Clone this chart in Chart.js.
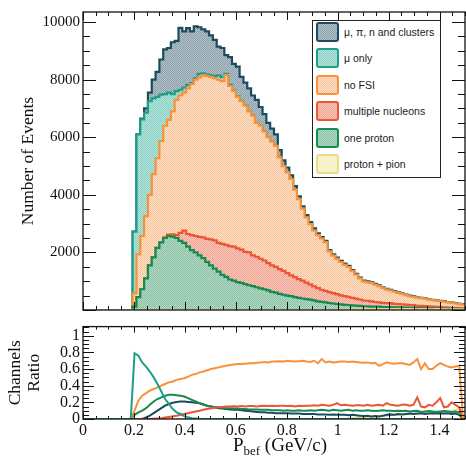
<!DOCTYPE html>
<html><head><meta charset="utf-8">
<script src="https://cdn.jsdelivr.net/npm/chart.js@4.4.0/dist/chart.umd.min.js"></script>
<style>
html,body{margin:0;padding:0;background:#fff;}
#wrap{position:relative;width:466px;height:458px;overflow:hidden;background:#fff;}
canvas{position:absolute;left:0;}
#c1{top:0;}
#c2{top:314px;}
#legend{position:absolute;left:312px;top:20px;width:127px;height:156px;border:1px solid #222;background:#fff;font:10.5px 'Liberation Sans',Arial,sans-serif;color:#222;}
.item{position:absolute;left:3px;height:20px;width:124px;}
.sw{position:absolute;left:0;top:0;width:19px;height:16px;border:2px solid;border-radius:3px;box-sizing:content-box;}
.lbl{position:absolute;left:28px;top:0;line-height:20px;white-space:nowrap;}
</style></head>
<body>
<div id="wrap">
<canvas id="c1" width="466" height="322"></canvas>
<canvas id="c2" width="466" height="144"></canvas>
<div id="legend"></div>
</div>
<script>
// ---------------- data ----------------
const binWidth = 0.015;          // GeV/c
const nBins = 100;               // 0 .. 1.5 GeV/c
const startBin = 13;             // first non-empty bin (arrays below start here)

const seriesNames = ['μ, π, n and clusters', 'μ only', 'no FSI', 'multiple nucleons', 'one proton', 'proton + pion'];
const topYTicks = [2000, 4000, 6000, 8000, 10000];
const ratioYTicks = [0, 0.2, 0.4, 0.6, 0.8, 1];
const xTicks = [0, 0.2, 0.4, 0.6, 0.8, 1, 1.2, 1.4];

// Number of events per bin (bins 13..99), each channel on its own
const protonPion = [0,0,0,0,0,0,0,0,0,0, 0,0,0,0,0,0,0,0,0,0, 0,0,0,0,0,0,0,0,0,0, 0,0,0,0,0,0,0,0,0,0, 0,0,0,0,0,0,0,
  2,2,3,3,3,4,4,5,5,8, 14,19,22,20,29,24,27,34,27,29, 34,29,30,34,29,29,32,25,28,30, 25,26,28,23,24,25,21,23,23,20];
const oneProton = [120,450,720,1100,1550,1830,2160,2350,2500,2570, 2550,2500,2400,2330,2200,2080,2000,1900,1800,1670,
  1550,1440,1330,1220,1150,1060,1020,970,940,900, 860,830,790,750,720,680,630,600,560,530, 500,480,450,420,400,380,360,
  330,300,280,262,240,222,205,192,175,165, 148,135,122,110,102,96,90,84,78,72, 68,64,60,56,52,48,45,42,40,38, 35,33,31,29,27,25,23,21,19,17];
const multiNucleons = [0,0,0,0,0,0,0,0,
  20,50,80,100,280, 430,440,520,570,640, 720,800,900,980,1000, 1080,1110,1160,1180,1170, 1160,1120,1140,1070,1060,
  1030,1000,950,920,900, 860,830,780,720,690, 650,620,570,530,490, 460,420,400,380,360, 340,310,300,280,260,
  240,220,200,190,180, 160,150,145,140,135, 120,115,110,105,95, 90,80,75,70,63, 56,50,45,41,36, 32,28,26,24];
const noFSI = [460,1480,1850,2160,2450,2890,3110,3520,3880,3980, 4270,4700,4770,4790,5060,5250,5430,5540,5640,5650,
  5650,5630,5670,5650,5900,5560,5400,5260,5150,5080, 4900,4850,4650,4620,4480,4370,4300,4200,3880,3640,
  3500,3350,3040,2780,2500,2270,2090,1940,1840,1780, 1690,1410,1300,1230,1160,1090,1040,930,830,730,
  660,640,630,600,560,520,470,440,420,390, 360,330,305,285,280,270,260,240,230,220, 208,195,182,168,154,138,122];
const muOnly = [2140,4170,4050,3590,3250,2630,2130,1610,1100,950, 600,300,200,170,120,30,50,120,60,60,
  50,70,150,150,40,40,20,20,10,10,
  0,0,0,0,0,0,0,0,0,0, 0,0,0,0,0,0,0,0,0,0, 0,0,0,0,0,0,0,0,0,0, 0,0,0,0,0,0,0,0,0,0, 0,0,0,0,0,0,0,0,0,0, 0,0,0,0,0,0,0];
const muPiNClusters = [0,0,30,150,300,650,870,1220,1550,1550, 1800,1750,2150,1960,1970,1800,1800,1620,1530,1500,
  1390,1260,1000,1000,650,960,930,1030,840,790, 800,700,800,650,600,500,450,400,250,200,
  170,130,120,100,80,80,70,70,60,50, 50,50,50,40,40,40,40,30,30,30, 30,30,30,30,30,20,20,20,20,20,
  20,20,20,20,10,10,10,10,10,10, 10,10,10,10,10,10,10];

// Channel ratios per bin (bins 13..99)
const ratioMuOnly = [0.79,0.76,0.68,0.63,0.57,0.5,0.42,0.33,0.24,0.18, 0.12,0.08,0.06,0.035,0.02,0.01,0.005,0,0,0,
  0,0,0,0,0,0,0,0,0,0, 0,0,0,0,0,0,0,0,0,0, 0,0,0,0,0,0,0,0,0,0, 0,0,0,0,0,0,0,0,0,0, 0,0,0,0,0,0,0,0,0,0, 0,0,0,0,0,0,0];
const ratioNoFSI = [0.1,0.22,0.28,0.31,0.34,0.36,0.38,0.4,0.42,0.44, 0.45,0.47,0.48,0.49,0.51,0.53,0.54,0.56,0.57,0.585,
  0.6,0.61,0.62,0.63,0.64,0.65,0.655,0.66,0.66,0.665, 0.67,0.67,0.675,0.68,0.685,0.68,0.69,0.69,0.695,0.69,
  0.7,0.695,0.69,0.695,0.7,0.69,0.685,0.7,0.67,0.72, 0.68,0.69,0.68,0.685,0.69,0.69,0.685,0.69,0.685,0.68,
  0.675,0.68,0.67,0.675,0.64,0.66,0.68,0.67,0.665,0.67, 0.67,0.66,0.65,0.68,0.72,0.6,0.67,0.6,0.6,0.64,
  0.67,0.65,0.63,0.62,0.63,0.64,0];
const ratioMulti = [0,0,0,0,0,0.003,0.006,0.01,0.018,0.025, 0.033,0.04,0.05,0.06,0.07,0.08,0.09,0.1,0.11,0.12,
  0.13,0.135,0.14,0.145,0.15,0.15,0.152,0.15,0.155,0.15, 0.155,0.155,0.15,0.155,0.16,0.155,0.16,0.155,0.16,0.16,
  0.155,0.16,0.15,0.16,0.155,0.16,0.16,0.165,0.16,0.17, 0.165,0.16,0.17,0.19,0.165,0.17,0.165,0.16,0.165,0.165,
  0.16,0.17,0.16,0.165,0.17,0.16,0.19,0.17,0.165,0.16, 0.17,0.175,0.16,0.17,0.26,0.15,0.14,0.17,0.16,0.2,
  0.25,0.14,0.15,0.2,0.17,0.14,0];
const ratioOneProton = [0.05,0.08,0.1,0.13,0.17,0.21,0.24,0.26,0.28,0.29, 0.29,0.285,0.28,0.27,0.25,0.23,0.21,0.19,0.175,0.16,
  0.15,0.145,0.14,0.135,0.13,0.13,0.125,0.125,0.12,0.12, 0.115,0.115,0.115,0.11,0.11,0.11,0.105,0.105,0.105,0.1,
  0.105,0.1,0.1,0.105,0.1,0.1,0.105,0.1,0.105,0.11, 0.105,0.1,0.11,0.105,0.1,0.105,0.11,0.1,0.105,0.1,
  0.1,0.105,0.1,0.095,0.1,0.105,0.1,0.1,0.095,0.1, 0.095,0.1,0.09,0.095,0.1,0.085,0.09,0.095,0.09,0.085,
  0.09,0.095,0.09,0.085,0.09,0.08,0];
const ratioClusters = [0,0,0,0.02,0.04,0.07,0.1,0.13,0.16,0.18, 0.195,0.205,0.21,0.21,0.205,0.2,0.195,0.19,0.175,0.16,
  0.15,0.14,0.13,0.125,0.12,0.115,0.11,0.11,0.105,0.1, 0.095,0.09,0.085,0.08,0.08,0.075,0.075,0.07,0.07,0.07,
  0.07,0.065,0.065,0.065,0.06,0.06,0.06,0.06,0.055,0.055, 0.055,0.05,0.055,0.05,0.05,0.05,0.045,0.05,0.045,0.04,
  0.035,0.04,0.03,0.035,0.03,0.04,0.05,0.055,0.05,0.06, 0.055,0.06,0.065,0.06,0.065,0.07,0.06,0.065,0.07,0.065,
  0.07,0.065,0.07,0.06,0.065,0.05,0];
const ratioProtonPion = [0,0,0,0,0,0,0,0,0,0, 0,0,0,0,0,0,0,0,0,0, 0,0,0,0,0,0,0,0,0,0, 0,0,0,0,0,0,0,0,0,0, 0,0,0,0,0,0,0,0,0,0, 0,0,0,0,0,0,
  0.005,0.01,0.015,0.02,0.02,0.03,0.025,0.03,0.04,0.035, 0.04,0.05,0.045,0.05,0.06,0.055,0.06,0.07,0.06,0.07,
  0.08,0.07,0.08,0.09,0.08,0.09,0.1,0.09,0.11,0.12,0];

// ---------------- styles ----------------
const style = {
  clusters:   {line:'#1c4a5f', c1:'#8c9fa9', c2:'#b5c3ca'},
  muOnly:     {line:'#1e9e8a', c1:'#86cfc2', c2:'#b8e4dc'},
  noFSI:      {line:'#f7923b', c1:'#f9c49b', c2:'#fde0c8'},
  multi:      {line:'#ec5634', c1:'#f1a190', c2:'#f8c9bd'},
  oneProton:  {line:'#178a4f', c1:'#86bfa2', c2:'#b6dbc8'},
  protonPion: {line:'#eadc86', c1:'#f3ecb4', c2:'#faf7dc'}
};
function patternCanvas(s){
  const p=document.createElement('canvas'); p.width=2; p.height=2;
  const g=p.getContext('2d');
  g.fillStyle=s.c2; g.fillRect(0,0,2,2);
  g.fillStyle=s.c1; g.fillRect(0,0,1,1); g.fillRect(1,1,1,1);
  return p;
}
const ctx1=document.getElementById('c1').getContext('2d');
function pat(s){ return ctx1.createPattern(patternCanvas(s),'repeat'); }

// ---------------- build stacked step data ----------------
const stackOrder = [
  {data: protonPion,    st: style.protonPion},
  {data: oneProton,     st: style.oneProton},
  {data: multiNucleons, st: style.multi},
  {data: noFSI,         st: style.noFSI},
  {data: muOnly,        st: style.muOnly},
  {data: muPiNClusters, st: style.clusters}
];
const cum = new Array(nBins).fill(0);
const histDatasets = stackOrder.map((s, k) => {
  for (let b=startBin; b<nBins; b++) cum[b] += s.data[b-startBin];
  const pts = [];
  for (let b=0; b<nBins; b++) pts.push({x: +(b*binWidth).toFixed(4), y: cum[b]});
  pts.push({x: +(nBins*binWidth).toFixed(4), y: cum[nBins-1]});
  return {
    data: pts, stepped: true, borderColor: s.st.line, borderWidth: 2.2,
    backgroundColor: pat(s.st), fill: k===0 ? 'origin' : '-1',
    pointRadius: 0, borderJoinStyle: 'miter'
  };
});

function ratioPoints(arr){
  const pts=[];
  for (let b=0; b<nBins; b++) pts.push({x: +((b+0.5)*binWidth).toFixed(4), y: b<startBin ? 0 : arr[b-startBin]});
  return pts;
}
const ratioDefs = [
  {data: ratioMuOnly, c: style.muOnly.line},
  {data: ratioNoFSI, c: style.noFSI.line},
  {data: ratioMulti, c: style.multi.line},
  {data: ratioOneProton, c: style.oneProton.line},
  {data: ratioClusters, c: style.clusters.line},
  {data: ratioProtonPion, c: style.protonPion.line}
];
const ratioDatasets = ratioDefs.map(r => ({data: ratioPoints(r.data), borderColor: r.c, borderWidth: 2, pointRadius: 0, fill: false, tension: 0}));

// ---------------- plugins ----------------
const frameTicks = {
  id: 'frameTicks',
  afterDraw(chart, _a, o){
    const {ctx, chartArea: A} = chart;
    const xs = chart.scales.x, ys = chart.scales.y;
    ctx.save();
    ctx.strokeStyle = '#111'; ctx.lineWidth = 1;
    const run = (scale, step, cb) => {
      const n = Math.round((scale.max - scale.min)/step + 1e-6);
      for (let i=0;i<=n;i++){ const v = scale.min + i*step; if (v <= scale.max+1e-9) cb(scale.getPixelForValue(v), i); }
    };
    ctx.beginPath();
    run(xs, o.xMinor, (p,i)=>{
      const major = Math.abs((i*o.xMinor)/o.xMajor - Math.round((i*o.xMinor)/o.xMajor))<1e-6;
      const L = major ? o.xMajLen : o.xMinLen;
      const px = Math.round(p)+0.5;
      ctx.moveTo(px, A.bottom); ctx.lineTo(px, A.bottom-L);
      ctx.moveTo(px, A.top); ctx.lineTo(px, A.top+L);
    });
    run(ys, o.yMinor, (p,i)=>{
      const major = Math.abs((i*o.yMinor)/o.yMajor - Math.round((i*o.yMinor)/o.yMajor))<1e-6;
      const L = major ? o.yMajLen : o.yMinLen;
      const py = Math.round(p)+0.5;
      ctx.moveTo(A.left, py); ctx.lineTo(A.left+L, py);
      ctx.moveTo(A.right, py); ctx.lineTo(A.right-L, py);
    });
    ctx.stroke();
    ctx.lineWidth = 1.3;
    ctx.strokeRect(A.left, A.top, A.right-A.left, A.bottom-A.top);
    ctx.restore();
  }
};
const xTitle = {
  id: 'xTitle',
  afterDraw(chart, _a, o){
    const ctx = chart.ctx;
    ctx.save();
    ctx.fillStyle = '#111';
    ctx.textBaseline = 'alphabetic';
    const big = '19px "Liberation Serif", serif', small = '13px "Liberation Serif", serif';
    ctx.font = big; const wP = ctx.measureText('P').width; const wR = ctx.measureText(' (GeV/c)').width;
    ctx.font = small; const wS = ctx.measureText('bef').width;
    let x = o.cx - (wP+wS+wR)/2; const y = o.baseline;
    ctx.font = big; ctx.fillText('P', x, y); x += wP;
    ctx.font = small; ctx.fillText('bef', x, y+4); x += wS;
    ctx.font = big; ctx.fillText(' (GeV/c)', x, y);
    ctx.restore();
  }
};

const serif = "'Liberation Serif','Times New Roman',serif";
const fixTicks = list => s => { s.ticks = list.map(v => ({value: v})); };
const fmt = v => String(Number(Number(v).toFixed(1)));

new Chart(ctx1, {
  type: 'line',
  data: {datasets: histDatasets},
  options: {
    responsive: false, animation: false, devicePixelRatio: 1,
    layout: {padding: {top: 6, right: 1, left: 0, bottom: 0}},
    plugins: {legend: {display: false}, tooltip: {enabled: false},
      frameTicks: {xMinor: 0.05, xMajor: 0.2, xMajLen: 8, xMinLen: 4, yMinor: 500, yMajor: 2000, yMajLen: 13, yMinLen: 7}},
    scales: {
      x: {type: 'linear', min: 0, max: 1.5, display: true, ticks: {display: false}, grid: {display: false}, border: {display: false},
          afterFit: s => { s.height = 2.5; }},
      y: {min: 0, max: 10350, grid: {display: false, drawTicks: false}, border: {display: false},
          afterBuildTicks: fixTicks(topYTicks),
          ticks: {autoSkip: false, padding: 3, color: '#111', font: {family: serif, size: 15}, callback: v => String(v)},
          title: {display: true, text: 'Number of Events', color: '#111', font: {family: serif, size: 17.5}, padding: {top: 18, bottom: 0}},
          afterFit: s => { s.width = 83; }}
    }
  },
  plugins: [frameTicks]
});

new Chart(document.getElementById('c2').getContext('2d'), {
  type: 'line',
  data: {datasets: ratioDatasets},
  options: {
    responsive: false, animation: false, devicePixelRatio: 1,
    layout: {padding: {top: 8.5, right: 1, left: 0, bottom: 0}},
    plugins: {legend: {display: false}, tooltip: {enabled: false},
      frameTicks: {xMinor: 0.05, xMajor: 0.2, xMajLen: 6, xMinLen: 3, yMinor: 0.05, yMajor: 0.2, yMajLen: 11, yMinLen: 6},
      xTitle: {cx: 280, baseline: 137}},
    scales: {
      x: {type: 'linear', min: 0, max: 1.5, grid: {display: false, drawTicks: false}, border: {display: false},
          afterBuildTicks: fixTicks(xTicks),
          ticks: {autoSkip: false, maxRotation: 0, padding: 2, color: '#111', font: {family: serif, size: 16}, callback: fmt},
          afterFit: s => { s.height = 39; }},
      y: {min: 0, max: 1.11, grid: {display: false, drawTicks: false}, border: {display: false},
          afterBuildTicks: fixTicks(ratioYTicks),
          ticks: {autoSkip: false, padding: 3, color: '#111', font: {family: serif, size: 16}, callback: fmt},
          title: {display: true, text: ['Channels', 'Ratio'], color: '#111', font: {family: serif, size: 17.5, lineHeight: 1.1}, padding: {top: 6, bottom: 0}},
          afterFit: s => { s.width = 83; }}
    }
  },
  plugins: [frameTicks, xTitle]
});

// ---------------- legend ----------------
const legendStyles = [style.clusters, style.muOnly, style.noFSI, style.multi, style.oneProton, style.protonPion];
const leg = document.getElementById('legend');
seriesNames.forEach((name, i) => {
  const it = document.createElement('div'); it.className = 'item'; it.style.top = (1 + i*26.4) + 'px';
  const sw = document.createElement('div'); sw.className = 'sw';
  sw.style.borderColor = legendStyles[i].line;
  sw.style.backgroundImage = 'url(' + patternCanvas(legendStyles[i]).toDataURL() + ')';
  const lb = document.createElement('div'); lb.className = 'lbl'; lb.textContent = name;
  it.appendChild(sw); it.appendChild(lb); leg.appendChild(it);
});
</script>
</body></html>
